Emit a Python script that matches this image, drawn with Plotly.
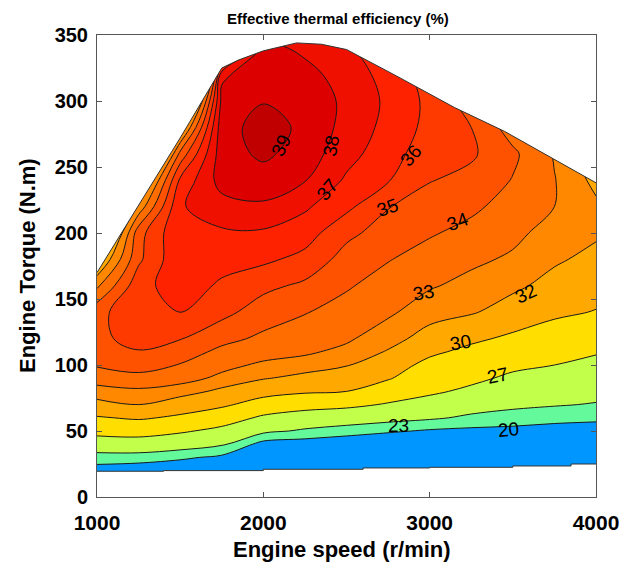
import numpy as np
import plotly.graph_objects as go

speed = [1000, 1250, 1500, 1750, 2000, 2250, 2500, 2750, 3000, 3250, 3500, 3750, 4000]
torque = [0, 10, 20, 30, 40, 50, 60, 70, 80, 90, 100, 110, 120,
          140, 160, 180, 200, 220, 240, 260, 280, 300, 320, 340, 360]

# efficiency (%) at each torque row, one list per engine speed
eff_1000 = [10, 14.5, 18.5, 21.7, 25.3, 28.0, 29.8, 31.6, 32.6, 33.45, 34.1, 34.55, 34.8,
            34.7, 32.8, 30.7, 28, 24, 20, 17, 15, 14, 13, 12, 12]
eff_1250 = [10, 14, 18, 21.5, 25.8, 28.0, 30.3, 32.0, 32.8, 33.7, 34.4, 34.95, 35.3,
            35.7, 35.65, 34.8, 34.6, 32.3, 30.0, 26.1, 22, 19, 16, 14, 13]
eff_1500 = [10, 13.5, 17.3, 20.6, 24.8, 27.4, 29.6, 31.2, 32.55, 33.35, 33.95, 34.5, 35.05,
            36.0, 36.5, 36.8, 36.9, 36.9, 36.2, 34.3, 31.2, 26.9, 18, 15, 13]
eff_1750 = [10, 12.5, 15.5, 19.3, 23.5, 26.2, 28.5, 30.4, 31.7, 32.8, 33.25, 33.75, 34.3,
            35.3, 35.85, 36.35, 36.85, 37.6, 38.4, 38.55, 38.6, 38.3, 37.8, 32, 25]
eff_2000 = [9, 11, 13.5, 16, 18.8, 23.8, 26.5, 29.0, 30.8, 32.1, 32.85, 33.35, 33.8,
            34.5, 35.25, 36.2, 36.85, 37.85, 38.55, 39.2, 39.4, 38.95, 38.7, 38.3, 37]
eff_2250 = [9, 10.5, 12.5, 15, 18.3, 22.5, 25.6, 28.1, 30.3, 31.6, 32.6, 33.15, 33.45,
            34.05, 34.8, 35.7, 36.45, 37.15, 38.05, 38.55, 38.8, 38.6, 38.3, 37.8, 36]
eff_2500 = [9, 10.5, 12.3, 14.5, 17.5, 21.5, 25, 27.7, 30.0, 31.1, 32.1, 32.75, 33.15,
            33.65, 34.1, 34.6, 35.25, 36.25, 36.85, 37.35, 37.65, 37.8, 37.6, 37.2, 36]
eff_2750 = [9, 10.5, 12, 14, 16.8, 20.5, 24.25, 26.75, 28.6, 30.2, 31.0, 31.9, 32.45,
            33.17, 33.6, 34.05, 34.55, 35.05, 36.07, 36.45, 36.7, 36.8, 36.6, 36, 35]
eff_3000 = [9, 10.3, 11.8, 13.8, 16.2, 19.6, 23.5, 25.8, 27.5, 28.45, 29.4, 30.4, 31.5,
            32.45, 33.1, 33.6, 34.1, 34.55, 35.05, 35.4, 35.7, 35.75, 35.5, 35, 34]
eff_3250 = [9, 10.2, 11.5, 13.5, 15.8, 19.2, 22.4, 24.5, 26.4, 27.65, 28.55, 29.45, 30.4,
            32.15, 32.7, 33.2, 33.7, 34.2, 34.7, 35.15, 35.0, 34.5, 34, 33, 32]
eff_3500 = [9, 10, 11.2, 13, 15.5, 19.0, 21.75, 23.7, 25.07, 26.45, 27.6, 28.6, 29.6,
            31.3, 32.3, 32.85, 33.25, 33.6, 33.95, 34.2, 33.5, 33, 32.5, 32, 31]
eff_3750 = [9, 10, 11, 12.8, 15.2, 18.5, 21.15, 23.25, 24.5, 25.75, 27.0, 27.95, 28.9,
            30.4, 31.5, 32.2, 32.6, 33.0, 33.05, 32.9, 32.5, 32, 31.5, 31, 30]
eff_4000 = [9, 10, 11, 12.6, 15, 18.2, 20.8, 22.8, 24.0, 25.1, 26.2, 27.25, 28.15,
            29.9, 30.8, 31.6, 32.2, 32.2, 31.7, 31, 30.5, 30, 29.5, 29, 28]

# operating envelope (max torque curve and lowest mapped torque)
env_speed = [1000, 1250, 1500, 1750, 1850, 2000, 2200, 2350, 2500, 2800, 3150, 3450, 3750, 4000]
env_max = [170, 221, 272, 325, 331, 338, 344, 343, 339, 319, 295, 277, 256, 238]
min_speed = [1000, 1400, 2000, 2600, 3000, 3500, 3850, 4000]
min_torque = [19.5, 20, 21, 22, 22.5, 23.5, 25, 25]

levels = [20, 23, 27, 30, 32, 33, 34, 35, 36, 37, 38, 39]
label_text = ["20", "23", "27", "30", "32", "33", "34", "35", "36", "37", "38", "39"]

# ---------------- styling ----------------
band_colors = ["#0096ff", "#64f99a", "#c2ff4a", "#ffde00", "#ffa800", "#ff8800",
               "#ff6c00", "#ff5200", "#ff3a00", "#ff2200", "#f01000", "#dc0000", "#c00000"]
# label placement (speed, torque, angle) for each level label
label_place = [(3476, 50.8, -5), (2813, 54.5, 0), (3410, 92.4, -12), (3187, 117, -10),
               (3578, 154.5, -25), (2964, 155, -10), (3172, 208.5, -20), (2747, 219, -20),
               (2886, 259, -50), (2386, 232.6, -50), (2410, 266, -80), (2108, 266, -65)]

FONT = "Liberation Sans, Arial, sans-serif"

z = np.array([eff_1000, eff_1250, eff_1500, eff_1750, eff_2000, eff_2250, eff_2500,
              eff_2750, eff_3000, eff_3250, eff_3500, eff_3750, eff_4000]).T

# stepwise colorscale: band between levels -> constant colour
c_start, c_end, c_size = 20, 39, 1
lo = c_start - c_size / 2
span = (c_end + c_size / 2) - lo
edges = [0.0] + [(L - lo) / span for L in levels] + [1.0]
colorscale = []
for i, col in enumerate(band_colors):
    colorscale.append([edges[i], col])
    colorscale.append([edges[i + 1], col])

fig = go.Figure()
fig.add_trace(go.Contour(
    x=speed, y=torque, z=z, colorscale=colorscale, showscale=False,
    autocontour=False,
    contours=dict(start=c_start, end=c_end, size=c_size, coloring="fill", showlines=False),
    line=dict(width=0), hoverinfo="skip"))

for L in levels:
    fig.add_trace(go.Contour(
        x=speed, y=torque, z=z, showscale=False, autocontour=False,
        contours=dict(start=L, end=L, size=1, coloring="none", showlines=True),
        line=dict(color="#1a1a1a", width=1), hoverinfo="skip"))

# white masks outside the operating envelope
fig.add_trace(go.Scatter(
    x=[990] + env_speed + [4010, 4010, 990],
    y=[env_max[0]] + env_max + [env_max[-1], 420, 420],
    fill="toself", fillcolor="white", mode="lines", line=dict(width=0),
    hoverinfo="skip", showlegend=False))
fig.add_trace(go.Scatter(
    x=[990] + min_speed + [4010, 4010, 990],
    y=[min_torque[0]] + min_torque + [min_torque[-1], -20, -20],
    fill="toself", fillcolor="white", mode="lines", line=dict(width=0), line_shape="hv",
    hoverinfo="skip", showlegend=False))
fig.add_trace(go.Scatter(x=env_speed, y=env_max, mode="lines",
                         line=dict(color="#333333", width=1), hoverinfo="skip", showlegend=False))
fig.add_trace(go.Scatter(x=min_speed, y=min_torque, mode="lines", line_shape="hv",
                         line=dict(color="#333333", width=1), hoverinfo="skip", showlegend=False))

annotations = []
for txt, (sx, ty, ang) in zip(label_text, label_place):
    annotations.append(dict(x=sx, y=ty, xref="x", yref="y", text=txt, showarrow=False,
                            textangle=ang, font=dict(family=FONT, size=19, color="black")))

annotations += [
    dict(text="<b>Effective thermal efficiency (%)</b>", xref="paper", yref="paper",
         x=0.482, y=1.0, yshift=17, xanchor="center", yanchor="middle", showarrow=False,
         font=dict(family=FONT, size=15, color="black")),
    dict(text="<b>Engine speed (r/min)</b>", xref="paper", yref="paper",
         x=0.49, y=0, yshift=-52, xanchor="center", yanchor="middle", showarrow=False,
         font=dict(family=FONT, size=22, color="black")),
    dict(text="<b>Engine Torque (N.m)</b>", xref="paper", yref="paper",
         x=0, xshift=-70, y=0.5, xanchor="center", yanchor="middle", textangle=-90,
         showarrow=False, font=dict(family=FONT, size=22, color="black")),
]

axis_common = dict(showgrid=False, zeroline=False, showline=True, linecolor="#555555",
                   linewidth=1, mirror="allticks", ticks="inside", ticklen=5,
                   tickcolor="#555555", automargin=False, ticklabeloverflow="allow")

fig.update_layout(
    width=619, height=562,
    margin=dict(l=97, r=23, t=35, b=65, autoexpand=False),
    paper_bgcolor="white", plot_bgcolor="white",
    showlegend=False,
    xaxis=dict(range=[1000, 4000], tickvals=[1000, 2000, 3000, 4000],
               ticklabelstandoff=7,
               tickfont=dict(family=FONT, size=21, color="black", weight="bold"),
               **axis_common),
    yaxis=dict(range=[0, 350], tickvals=[0, 50, 100, 150, 200, 250, 300, 350],
               ticklabelstandoff=4,
               tickfont=dict(family=FONT, size=20, color="black", weight="bold"),
               **axis_common),
    annotations=annotations,
)

fig.write_html("out.html")
